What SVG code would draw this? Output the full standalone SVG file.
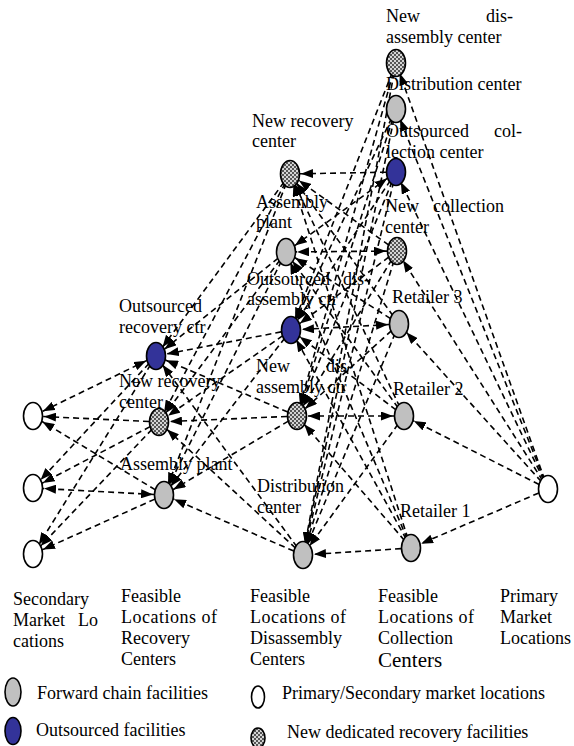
<svg xmlns="http://www.w3.org/2000/svg" width="574" height="746" viewBox="0 0 574 746">
<style>
text{font-family:"Liberation Serif","Times New Roman",serif;font-size:18px;fill:#000}
.big{font-size:21px}
.n{stroke:#000;stroke-width:1.6}
.fw{fill:#c0c0c0}
.os{fill:#333399}
.nw{fill:url(#chk)}
.mk{fill:#fff}
line{stroke:#000;stroke-width:1.6;stroke-dasharray:6,4;fill:none}
.e{marker-end:url(#ah)}
.b{marker-end:url(#ah);marker-start:url(#ah)}
</style>
<defs>
<pattern id="chk" width="4" height="4" patternUnits="userSpaceOnUse">
<rect width="4" height="4" fill="#d4d4d4"/>
<rect width="2" height="2" fill="#555"/>
<rect x="2" y="2" width="2" height="2" fill="#555"/>
</pattern>
<marker id="ah" markerUnits="userSpaceOnUse" markerWidth="13" markerHeight="9" viewBox="0 0 13 9" refX="23" refY="4.5" orient="auto-start-reverse">
<path d="M0,0 L12,4.5 L0,9 z" fill="#000"/>
</marker>
</defs>

<g id="connectors">
<!-- primary market to collection column -->
<line class="e" x1="548" y1="489" x2="396" y2="63"/>
<line class="e" x1="548" y1="489" x2="396" y2="109"/>
<line class="e" x1="548" y1="489" x2="396" y2="172"/>
<line class="e" x1="548" y1="489" x2="397" y2="251"/>
<line class="e" x1="548" y1="489" x2="399" y2="324"/>
<line class="e" x1="548" y1="489" x2="404" y2="416"/>
<line class="e" x1="548" y1="489" x2="411" y2="548"/>
<!-- collection column to disassembly column -->
<line class="e" x1="396" y1="63" x2="291" y2="330"/>
<line class="e" x1="396" y1="63" x2="297" y2="416"/>
<line class="e" x1="396" y1="63" x2="303" y2="555"/>
<line class="e" x1="396" y1="109" x2="291" y2="330"/>
<line class="e" x1="396" y1="109" x2="297" y2="416"/>
<line class="e" x1="396" y1="109" x2="303" y2="555"/>
<line class="e" x1="396" y1="172" x2="290" y2="174"/>
<line class="b" x1="396" y1="172" x2="286" y2="252"/>
<line class="e" x1="396" y1="172" x2="291" y2="330"/>
<line class="e" x1="396" y1="172" x2="297" y2="416"/>
<line class="e" x1="396" y1="172" x2="303" y2="555"/>
<line class="e" x1="397" y1="251" x2="290" y2="174"/>
<line class="b" x1="397" y1="251" x2="286" y2="252"/>
<line class="e" x1="397" y1="251" x2="291" y2="330"/>
<line class="e" x1="397" y1="251" x2="297" y2="416"/>
<line class="e" x1="397" y1="251" x2="303" y2="555"/>
<line class="e" x1="399" y1="324" x2="290" y2="174"/>
<line class="e" x1="399" y1="324" x2="286" y2="252"/>
<line class="b" x1="399" y1="324" x2="291" y2="330"/>
<line class="e" x1="399" y1="324" x2="297" y2="416"/>
<line class="e" x1="399" y1="324" x2="303" y2="555"/>
<line class="e" x1="404" y1="416" x2="290" y2="174"/>
<line class="e" x1="404" y1="416" x2="286" y2="252"/>
<line class="e" x1="404" y1="416" x2="291" y2="330"/>
<line class="b" x1="404" y1="416" x2="297" y2="416"/>
<line class="e" x1="404" y1="416" x2="303" y2="555"/>
<line class="e" x1="411" y1="548" x2="290" y2="174"/>
<line class="e" x1="411" y1="548" x2="286" y2="252"/>
<line class="e" x1="411" y1="548" x2="291" y2="330"/>
<line class="e" x1="411" y1="548" x2="297" y2="416"/>
<line class="e" x1="411" y1="548" x2="303" y2="555"/>
<!-- disassembly column to recovery column -->
<line class="e" x1="290" y1="174" x2="156" y2="356"/>
<line class="e" x1="290" y1="174" x2="159" y2="422"/>
<line class="e" x1="290" y1="174" x2="164" y2="495"/>
<line class="e" x1="286" y1="252" x2="156" y2="356"/>
<line class="e" x1="286" y1="252" x2="159" y2="422"/>
<line class="e" x1="286" y1="252" x2="164" y2="495"/>
<line class="e" x1="291" y1="330" x2="156" y2="356"/>
<line class="e" x1="291" y1="330" x2="159" y2="422"/>
<line class="e" x1="291" y1="330" x2="164" y2="495"/>
<line class="e" x1="297" y1="416" x2="156" y2="356"/>
<line class="e" x1="297" y1="416" x2="159" y2="422"/>
<line class="e" x1="297" y1="416" x2="164" y2="495"/>
<line class="e" x1="303" y1="555" x2="156" y2="356"/>
<line class="e" x1="303" y1="555" x2="159" y2="422"/>
<line class="e" x1="303" y1="555" x2="164" y2="495"/>
<!-- recovery column to secondary market -->
<line class="b" x1="156" y1="356" x2="33" y2="416"/>
<line class="e" x1="156" y1="356" x2="33" y2="488"/>
<line class="e" x1="156" y1="356" x2="33" y2="554"/>
<line class="e" x1="159" y1="422" x2="33" y2="416"/>
<line class="e" x1="159" y1="422" x2="33" y2="488"/>
<line class="e" x1="159" y1="422" x2="33" y2="554"/>
<line class="e" x1="164" y1="495" x2="33" y2="416"/>
<line class="b" x1="164" y1="495" x2="33" y2="488"/>
<line class="e" x1="164" y1="495" x2="33" y2="554"/>
</g>

<g id="sec1"><ellipse class="n mk" cx="33" cy="416" rx="9.5" ry="13.5"/></g>
<g id="sec2"><ellipse class="n mk" cx="33" cy="488" rx="9.5" ry="13.5"/></g>
<g id="sec3"><ellipse class="n mk" cx="33" cy="554" rx="9.5" ry="13.5"/></g>

<g id="rec-outsourced"><ellipse class="n os" cx="156" cy="356" rx="9.5" ry="13.5"/>
<text x="119" y="312">Outsourced</text><text x="119" y="333">recovery ctr</text></g>
<g id="rec-new"><ellipse class="n nw" cx="159" cy="422" rx="9.5" ry="13.5"/>
<text x="119" y="387">New recovery</text><text x="119" y="408">center</text></g>
<g id="rec-assembly"><ellipse class="n fw" cx="164" cy="495" rx="9.5" ry="13.5"/>
<text x="120" y="470">Assembly plant</text></g>

<g id="dis-newrecovery"><ellipse class="n nw" cx="290" cy="174" rx="9.5" ry="13.5"/>
<text x="252" y="127">New recovery</text><text x="252" y="147">center</text></g>
<g id="dis-assembly"><ellipse class="n fw" cx="286" cy="252" rx="9.5" ry="13.5"/>
<text x="256" y="208">Assembly</text><text x="256" y="228">plant</text></g>
<g id="dis-outsourced"><ellipse class="n os" cx="291" cy="330" rx="9.5" ry="13.5"/>
<text x="247" y="285">Outsourced</text><text x="370" y="285" text-anchor="end">dis-</text><text x="247" y="305">assembly ctr</text></g>
<g id="dis-new"><ellipse class="n nw" cx="297" cy="416" rx="9.5" ry="13.5"/>
<text x="256" y="372">New</text><text x="353" y="372" text-anchor="end">dis-</text><text x="256" y="393">assembly ctr</text></g>
<g id="dis-distribution"><ellipse class="n fw" cx="303" cy="555" rx="9.5" ry="13.5"/>
<text x="257" y="492">Distribution</text><text x="257" y="513">center</text></g>

<g id="col-newdis"><ellipse class="n nw" cx="396" cy="63" rx="9.5" ry="13.5"/>
<text x="386" y="22">New</text><text x="513" y="22" text-anchor="end">dis-</text><text x="386" y="43">assembly center</text></g>
<g id="col-distribution"><ellipse class="n fw" cx="396" cy="109" rx="9.5" ry="13.5"/>
<text x="386" y="90">Distribution center</text></g>
<g id="col-outsourced"><ellipse class="n os" cx="396" cy="172" rx="9.5" ry="13.5"/>
<text x="386" y="137">Outsourced</text><text x="522" y="137" text-anchor="end">col-</text><text x="386" y="158">lection center</text></g>
<g id="col-new"><ellipse class="n nw" cx="397" cy="251" rx="9.5" ry="13.5"/>
<text x="385" y="212">New</text><text x="433" y="212">collection</text><text x="385" y="233">center</text></g>
<g id="retailer3"><ellipse class="n fw" cx="399" cy="324" rx="9.5" ry="13.5"/>
<text x="392" y="303">Retailer 3</text></g>
<g id="retailer2"><ellipse class="n fw" cx="404" cy="416" rx="9.5" ry="13.5"/>
<text x="393" y="395">Retailer 2</text></g>
<g id="retailer1"><ellipse class="n fw" cx="411" cy="548" rx="9.5" ry="13.5"/>
<text x="400" y="517">Retailer 1</text></g>

<g id="primary"><ellipse class="n mk" cx="548" cy="489" rx="9.5" ry="13.5"/></g>

<g id="column-labels">
<text x="13" y="605">Secondary</text><text x="13" y="626">Market</text><text x="78" y="626">Lo</text><text x="13" y="647">cations</text>
<text x="121" y="602">Feasible</text><text x="121" y="623" textLength="96">Locations of</text><text x="121" y="644">Recovery</text><text x="121" y="665">Centers</text>
<text x="250" y="602">Feasible</text><text x="250" y="623" textLength="96">Locations of</text><text x="250" y="644">Disassembly</text><text x="250" y="665">Centers</text>
<text x="378" y="602">Feasible</text><text x="378" y="623" textLength="96">Locations of</text><text x="378" y="644">Collection</text><text class="big" x="378" y="667">Centers</text>
<text x="500" y="602">Primary</text><text x="500" y="623">Market</text><text x="500" y="644">Locations</text>
</g>

<g id="legend">
<ellipse class="n fw" cx="13" cy="692" rx="8" ry="14"/>
<text x="37" y="699">Forward chain facilities</text>
<ellipse class="n os" cx="13" cy="731" rx="8" ry="13.5"/>
<text x="36" y="736">Outsourced facilities</text>
<ellipse class="n mk" cx="258" cy="697" rx="6.5" ry="11"/>
<text x="282" y="699">Primary/Secondary market locations</text>
<ellipse class="n nw" cx="258" cy="738" rx="7" ry="10"/>
<text x="287" y="738">New dedicated recovery facilities</text>
</g>
</svg>
